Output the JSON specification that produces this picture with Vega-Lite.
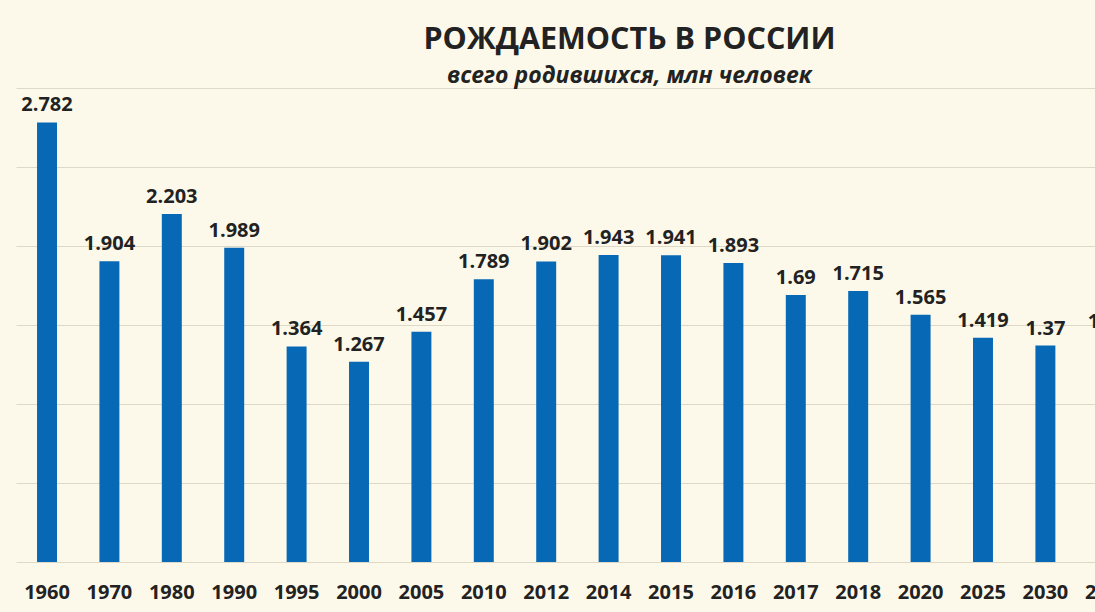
{
  "$schema": "https://vega.github.io/schema/vega-lite/v6.json",
  "width": 1079,
  "height": 474,
  "autosize": {"type": "none"},
  "padding": {"left": 16, "top": 88, "right": 0, "bottom": 50},
  "background": "#FCF9EA",
  "title": {
    "text": "РОЖДАЕМОСТЬ В РОССИИ",
    "subtitle": "всего родившихся, млн человек",
    "anchor": "middle",
    "frame": "group",
    "dx": 74,
    "offset": 0,
    "font": "Open Sans",
    "fontSize": 30.5,
    "fontWeight": "bold",
    "color": "#222222",
    "subtitleFont": "Open Sans",
    "subtitleFontSize": 23,
    "subtitleFontStyle": "italic",
    "subtitleFontWeight": "bold",
    "subtitleColor": "#222222",
    "subtitlePadding": 10
  },
  "config": {"view": {"stroke": null}},
  "data": {
    "values": [
      {"year": 1960, "births": 2.782},
      {"year": 1970, "births": 1.904},
      {"year": 1980, "births": 2.203},
      {"year": 1990, "births": 1.989},
      {"year": 1995, "births": 1.364},
      {"year": 2000, "births": 1.267},
      {"year": 2005, "births": 1.457},
      {"year": 2010, "births": 1.789},
      {"year": 2012, "births": 1.902},
      {"year": 2014, "births": 1.943},
      {"year": 2015, "births": 1.941},
      {"year": 2016, "births": 1.893},
      {"year": 2017, "births": 1.69},
      {"year": 2018, "births": 1.715},
      {"year": 2020, "births": 1.565},
      {"year": 2025, "births": 1.419},
      {"year": 2030, "births": 1.37},
      {"year": 2035, "births": 1.41}
    ]
  },
  "encoding": {
    "x": {
      "field": "year",
      "type": "ordinal",
      "scale": {"type": "band", "range": [0, 1122.8], "paddingInner": 0.68, "paddingOuter": 0.337},
      "axis": {
        "title": null,
        "labelAngle": 0,
        "labelFont": "Open Sans",
        "labelFontSize": 20,
        "labelFontWeight": "bold",
        "labelColor": "#222222",
        "labelPadding": 20,
        "ticks": false,
        "domain": false,
        "grid": false
      }
    },
    "y": {
      "field": "births",
      "type": "quantitative",
      "scale": {"domain": [0, 3]},
      "axis": {
        "values": [0, 0.5, 1, 1.5, 2, 2.5, 3],
        "labels": false,
        "ticks": false,
        "domain": false,
        "title": null,
        "grid": true,
        "gridColor": "#DDD9C6",
        "gridWidth": 1.2
      }
    }
  },
  "layer": [
    {"mark": {"type": "bar", "color": "#0769B5"}},
    {
      "mark": {
        "type": "text",
        "baseline": "bottom",
        "dy": -7,
        "font": "Open Sans",
        "fontSize": 20,
        "fontWeight": "bold",
        "color": "#222222"
      },
      "encoding": {"text": {"field": "births", "type": "quantitative", "format": "~g"}}
    }
  ]
}
